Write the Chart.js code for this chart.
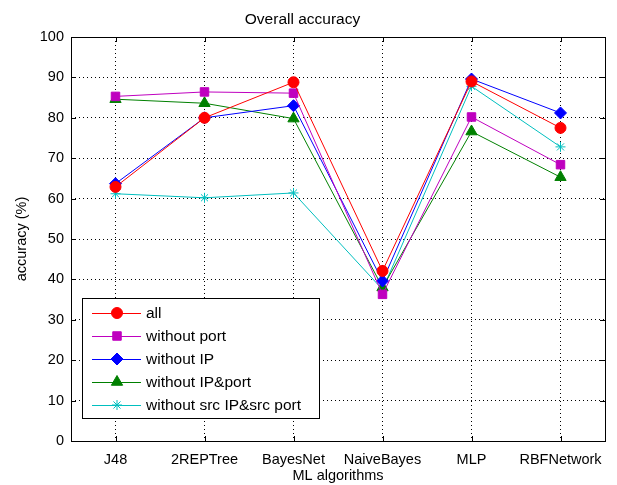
<!DOCTYPE html>
<html>
<head>
<meta charset="utf-8">
<script src="https://cdn.jsdelivr.net/npm/chart.js@4.4.0/dist/chart.umd.min.js"></script>
<style>
html,body{margin:0;padding:0;background:#fff;}
#wrap{width:617px;height:485px;position:relative;}
</style>
</head>
<body>
<div id="wrap"><canvas id="c" width="617" height="485"></canvas></div>
<script>
const categories = ["J48", "2REPTree", "BayesNet", "NaiveBayes", "MLP", "RBFNetwork"];
const seriesAll = [62.9, 80.0, 88.8, 42.1, 89.0, 77.5];
const seriesNoPort = [85.3, 86.4, 86.1, 36.3, 80.2, 68.4];
const seriesNoIP = [63.7, 80.0, 83.0, 39.6, 89.6, 81.2];
const seriesNoIPPort = [84.6, 83.6, 79.8, 38.0, 76.6, 65.3];
const seriesNoSrc = [61.2, 60.2, 61.4, 37.5, 87.8, 72.8];
const yTicks = [0, 10, 20, 30, 40, 50, 60, 70, 80, 90, 100];

const FONT = "'Liberation Sans', Arial, sans-serif";
const FS = 14.5;
const FS_TITLE = 15.5;
const FS_LEGEND = 15.5;

function ds(label, data, color, style, radius) {
  return {
    label, data,
    borderColor: color, backgroundColor: color,
    pointStyle: style, pointRadius: radius, pointHoverRadius: radius,
    pointBorderColor: color, pointBackgroundColor: color,
    borderWidth: 1, pointBorderWidth: 1, tension: 0, fill: false
  };
}

const datasets = [
  ds("all", seriesAll, "#ff0000", "circle", 5.5),
  ds("without port", seriesNoPort, "#bf00bf", "rect", 6),
  ds("without IP", seriesNoIP, "#0000ff", "rectRot", 6),
  ds("without IP&port", seriesNoIPPort, "#008000", "triangle", 6.5),
  ds("without src IP&src port", seriesNoSrc, "#00bfbf", "star", 5)
];

const framePlugin = {
  id: 'frame',
  afterDraw(chart) {
    const {ctx, chartArea: a, scales} = chart;
    ctx.save();
    ctx.strokeStyle = '#000';
    ctx.lineWidth = 1;
    ctx.beginPath();
    yTicks.forEach(v => {
      const y = Math.round(scales.y.getPixelForValue(v)) + 0.5;
      ctx.moveTo(a.left, y); ctx.lineTo(a.left + 5, y);
      ctx.moveTo(a.right, y); ctx.lineTo(a.right - 5, y);
    });
    categories.forEach((c, i) => {
      const x = Math.round(scales.x.getPixelForValue(i)) + 0.5;
      ctx.moveTo(x, a.bottom); ctx.lineTo(x, a.bottom - 5);
      ctx.moveTo(x, a.top); ctx.lineTo(x, a.top + 5);
    });
    ctx.stroke();
    ctx.strokeRect(Math.round(a.left) + 0.5, Math.round(a.top) + 0.5, Math.round(a.right - a.left), Math.round(a.bottom - a.top));

    // legend box
    const bx = 82.5, by = 298.5, bw = 237, bh = 120;
    ctx.fillStyle = '#fff';
    ctx.fillRect(bx, by, bw, bh);
    ctx.strokeStyle = '#000';
    ctx.strokeRect(bx, by, bw, bh);
    ctx.font = FS_LEGEND + 'px ' + FONT;
    ctx.textBaseline = 'middle';
    ctx.textAlign = 'left';
    chart.data.datasets.forEach((d, i) => {
      const y = 313 + i * 23;
      ctx.strokeStyle = d.borderColor;
      ctx.lineWidth = 1;
      ctx.beginPath();
      ctx.moveTo(92, y + 0.5); ctx.lineTo(141, y + 0.5);
      ctx.stroke();
      ctx.fillStyle = d.borderColor;
      Chart.helpers.drawPoint(ctx, {pointStyle: d.pointStyle, radius: d.pointRadius, rotation: 0, borderWidth: 1}, 117, y);
      ctx.fillStyle = '#000';
      ctx.fillText(d.label, 146, y + 1);
    });
    ctx.restore();
  }
};

new Chart(document.getElementById('c'), {
  type: 'line',
  data: { labels: categories, datasets },
  plugins: [framePlugin],
  options: {
    responsive: false,
    animation: false,
    devicePixelRatio: 1,
    layout: { padding: { left: 0, right: 12, top: 0, bottom: 0 } },
    plugins: {
      legend: { display: false },
      tooltip: { enabled: false },
      title: {
        display: true, text: 'Overall accuracy', color: '#000',
        font: { family: FONT, size: FS_TITLE, weight: 'normal' },
        padding: { top: 10, bottom: 8.4 }
      }
    },
    scales: {
      x: {
        type: 'category', offset: true,
        grid: { offset: false, color: '#000', lineWidth: 1, drawTicks: false },
        border: { display: false, dash: [1, 3] },
        ticks: { color: '#000', font: { family: FONT, size: FS }, padding: 10, maxRotation: 0, autoSkip: false },
        title: { display: true, text: 'ML algorithms', color: '#000', font: { family: FONT, size: FS }, padding: { top: 0, bottom: 0 } },
        afterFit(s) { s.height = 44; }
      },
      y: {
        min: 0, max: 100,
        grid: { color: '#000', lineWidth: 1, drawTicks: false },
        border: { display: false, dash: [1, 3] },
        ticks: { stepSize: 10, color: '#000', font: { family: FONT, size: FS }, padding: 7 },
        title: { display: true, text: 'accuracy (%)', color: '#000', font: { family: FONT, size: FS }, padding: { top: 13, bottom: 0 } },
        afterFit(s) { s.width = 71; }
      }
    }
  }
});
</script>
</body>
</html>
